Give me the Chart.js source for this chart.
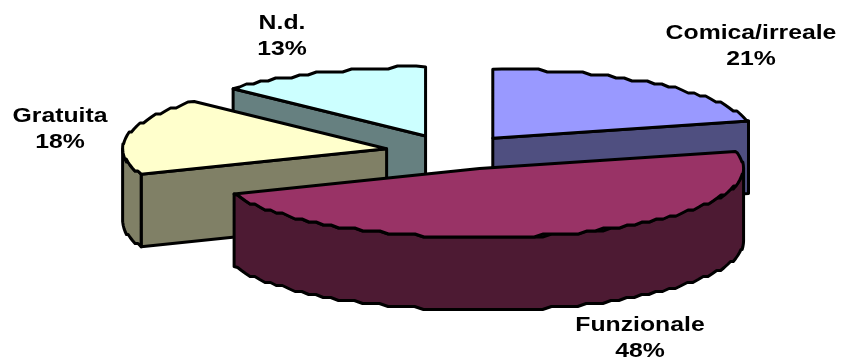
<!DOCTYPE html>
<html>
<head>
<meta charset="utf-8">
<style>
  html, body { margin: 0; padding: 0; background: #fff; overflow: hidden; }
  canvas { display: block; }
</style>
<script src="https://cdn.jsdelivr.net/npm/chart.js@4/dist/chart.umd.js"></script>
</head>
<body>
<canvas id="pie" width="846" height="358"></canvas>
<script>
const categories = ['Comica/irreale', 'Funzionale', 'Gratuita', 'N.d.'];
const percentages = [21, 48, 18, 13];
const topColors = ['#9999ff', '#993366', '#ffffcc', '#ccffff'];
const wallColors = ['#4f4f80', '#4d1a33', '#808066', '#668080'];

// back slices first so the front ones cover them
const paintOrder = [3, 2, 0, 1];

// the front slice sits a bit right of where the plain explode puts it
const sliceNudgeX = [0, 7, 0, 0];

// label anchors (centre x, first line y)
const labelSpots = [[751, 33], [640, 325], [60, 116], [282, 23]];
const labelLineHeight = 26.5;
const labelStretch = 1.18;

// fake 3d: the flat pie gets stretched and squashed to this ellipse
const view = { cx: 452, cy: 152, rx: 264, ry: 69, depth: 72.5, line: 3 };

const tiltedPie = {
  id: 'tiltedPie',
  beforeDatasetsDraw(chart) {
    const ctx = chart.ctx;
    const arcs = chart.getDatasetMeta(0).data;

    paintOrder.forEach(i => {
      const arc = arcs[i];
      const { startAngle, endAngle, outerRadius } = arc;
      const mid = (startAngle + endAngle) / 2;
      const shift = arc.options.offset / 4;
      const kx = view.rx / outerRadius;
      const ky = view.ry / outerRadius;

      const apex = {
        x: view.cx + Math.cos(mid) * shift * kx + sliceNudgeX[i],
        y: view.cy + Math.sin(mid) * shift * ky
      };
      const rimAt = t => ({
        x: apex.x + Math.cos(t) * view.rx,
        y: apex.y + Math.sin(t) * view.ry
      });
      // the original outline is stair-stepped, so sample coarsely and snap y
      const rimBetween = (a, b) => {
        const pts = [];
        const steps = Math.max(1, Math.round(Math.abs(b - a) / 0.035));
        for (let s = 0; s <= steps; s++) {
          const p = rimAt(a + (b - a) * s / steps);
          if (s > 0 && s < steps) p.y = Math.round(p.y / 3) * 3;
          pts.push(p);
        }
        return pts;
      };
      const shape = (pts, fill) => {
        ctx.beginPath();
        pts.forEach((p, n) => n ? ctx.lineTo(p.x, p.y) : ctx.moveTo(p.x, p.y));
        ctx.closePath();
        ctx.fillStyle = fill;
        ctx.fill();
        ctx.stroke();
      };
      const down = p => ({ x: p.x, y: p.y + view.depth });

      ctx.save();
      ctx.strokeStyle = '#000';
      ctx.lineWidth = view.line;
      ctx.lineJoin = 'round';

      // cut faces that look towards the viewer
      if (Math.cos(startAngle) < 0) {
        const edge = rimAt(startAngle);
        shape([apex, edge, down(edge), down(apex)], wallColors[i]);
      }
      if (Math.cos(endAngle) > 0) {
        const edge = rimAt(endAngle);
        shape([apex, edge, down(edge), down(apex)], wallColors[i]);
      }

      // outer wall, only the part on the front half of the ellipse
      const from = Math.max(startAngle, 0);
      const to = Math.min(endAngle, Math.PI);
      if (to > from) {
        const rim = rimBetween(from, to);
        shape(rim.concat(rim.map(down).reverse()), wallColors[i]);
      }

      shape([apex].concat(rimBetween(startAngle, endAngle)), topColors[i]);
      ctx.restore();
    });

    return false;
  },
  afterDraw(chart) {
    const ctx = chart.ctx;
    ctx.fillStyle = '#000';
    ctx.font = 'bold 21px "Liberation Sans", Arial, sans-serif';
    ctx.textAlign = 'center';
    ctx.textBaseline = 'middle';
    categories.forEach((name, i) => {
      const [lx, ly] = labelSpots[i];
      ctx.save();
      ctx.translate(lx, ly);
      ctx.scale(labelStretch, 1);
      ctx.fillText(name, 0, 0);
      ctx.fillText(percentages[i] + '%', 0, labelLineHeight);
      ctx.restore();
    });
  }
};

new Chart(document.getElementById('pie'), {
  type: 'pie',
  data: {
    labels: categories,
    datasets: [{
      data: percentages,
      backgroundColor: topColors,
      borderWidth: 0,
      offset: 120
    }]
  },
  options: {
    responsive: false,
    animation: false,
    events: [],
    plugins: {
      legend: { display: false },
      tooltip: { enabled: false }
    }
  },
  plugins: [tiltedPie]
});
</script>
</body>
</html>
